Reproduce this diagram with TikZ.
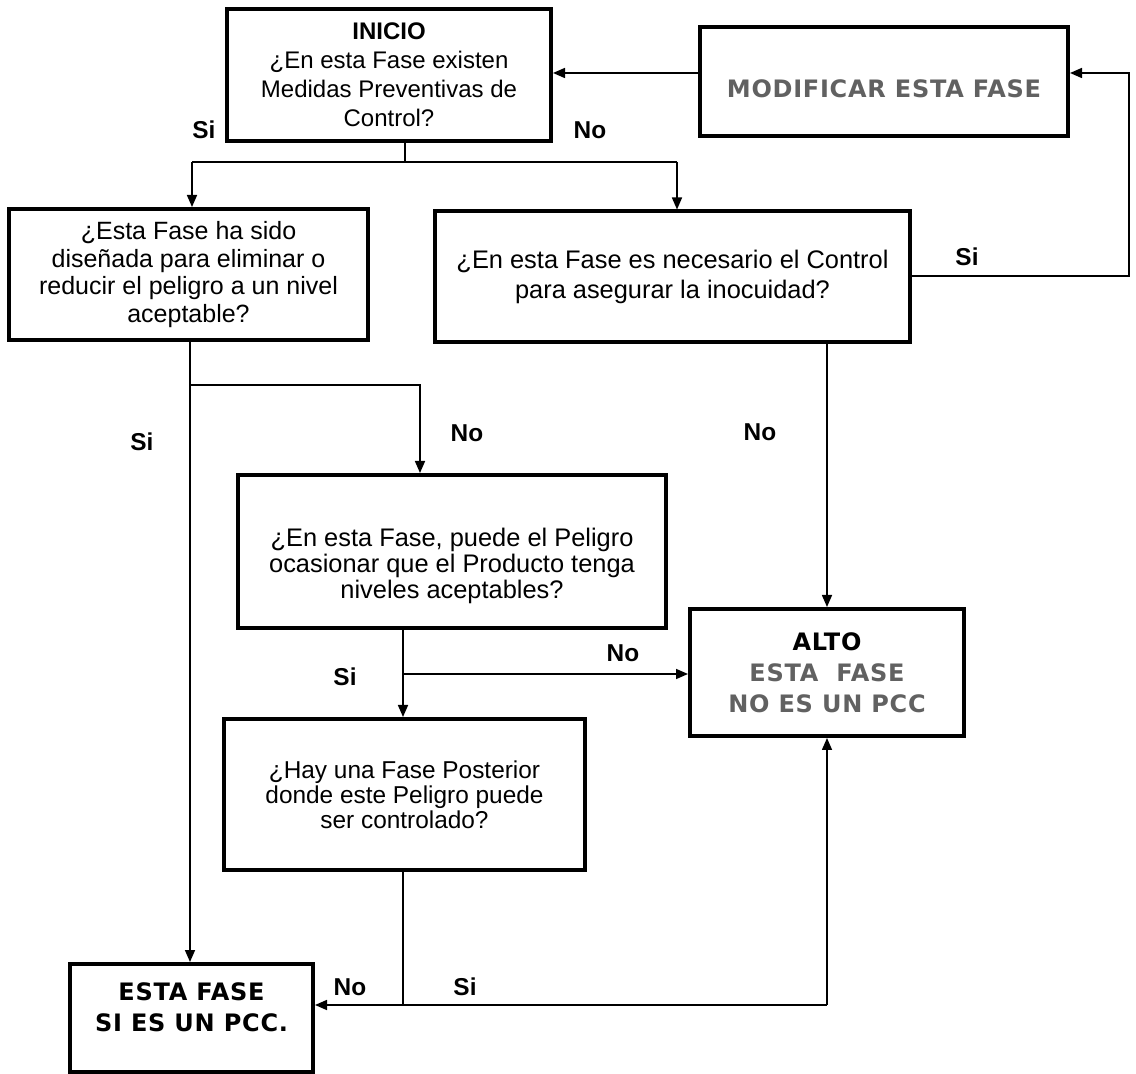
\documentclass[tikz,border=0pt]{standalone}
\usepackage{fontspec}
\setmainfont{Liberation Sans}
\newfontfamily\blkfont[LetterSpace=3.0]{DejaVu Sans}
\usetikzlibrary{arrows.meta}
\definecolor{stip}{gray}{0.38}
\begin{document}
\begin{tikzpicture}[x=0.5pt,y=-0.5pt,
  box/.style={draw,line width=2pt,inner sep=0pt,align=center,
    font=\fontsize{12.2}{14.5}\selectfont},
  txt/.style={inner sep=0pt,align=center},
  bigtxt/.style={font=\blkfont\bfseries\fontsize{12}{15.5}\selectfont},
  lbl/.style={font=\bfseries\fontsize{12.2}{14}\selectfont,inner sep=0pt},
  conn/.style={line width=0.8pt},
  arr/.style={conn,-{Triangle[length=6pt,width=5pt]}}]
\useasboundingbox (0,0) rectangle (1136,1074);

% boxes
\node[box,minimum width=162pt,minimum height=66pt,
  font=\fontsize{12}{14.5}\selectfont] (inicio) at (389,75)
  {\textbf{INICIO}\\¿En esta Fase existen\\Medidas Preventivas de\\Control?};
\node[box,bigtxt,text=stip,minimum width=184pt,minimum height=54.5pt,
  text height=16.5pt,text depth=0pt] (modif) at (884,81.5) {MODIFICAR ESTA FASE};
\node[box,minimum width=179.5pt,minimum height=65.5pt,
  font=\fontsize{12.5}{13.7}\selectfont] (lbox) at (188.5,274.5)
  {¿Esta Fase ha sido\\diseñada para eliminar o\\reducir el peligro a un nivel\\aceptable?};
\node[box,minimum width=237.5pt,minimum height=65.5pt,
  font=\fontsize{12.7}{15}\selectfont] (rbox) at (672.5,277)
  {¿En esta Fase es necesario el Control\\para asegurar la inocuidad?};
\node[box,minimum width=214pt,minimum height=76.5pt] (puede) at (452,551.5) {};
\node[txt,font=\fontsize{12.7}{13.2}\selectfont] (puedetxt) at (452,566)
  {¿En esta Fase, puede el Peligro\\ocasionar que el Producto tenga\\niveles aceptables?};
\node[box,minimum width=180.5pt,minimum height=75.5pt,
  font=\fontsize{12.2}{12.6}\selectfont] (hay) at (404.5,794.5)
  {¿Hay una Fase Posterior\\donde este Peligro puede\\ser controlado?};
\node[box,bigtxt,minimum width=137pt,minimum height=63.5pt] (alto) at (827,672.5)
  {ALTO\\\textcolor{stip}{ESTA~~FASE}\\\textcolor{stip}{NO ES UN PCC}};
\node[box,bigtxt,minimum width=121.5pt,minimum height=54pt] (esta) at (191.5,1018)
  {ESTA FASE\\SI ES UN PCC.\\[-5pt]~};

% labels
\node[lbl] (l1) at (204,130) {Si};
\node[lbl] (l2) at (590,130) {No};
\node[lbl] (l3) at (967,257) {Si};
\node[lbl] (l4) at (142,442) {Si};
\node[lbl] (l5) at (467,433) {No};
\node[lbl] (l6) at (760,432) {No};
\node[lbl] (l7) at (623,653) {No};
\node[lbl] (l8) at (345,677) {Si};
\node[lbl] (l9) at (350,987) {No};
\node[lbl] (l10) at (465,987) {Si};

% junction coordinates
\coordinate (jtop) at (405,162);
\coordinate (jl) at (192,162);
\coordinate (jr) at (677,162);
\coordinate (ym) at (0,73);
\coordinate (fb) at (1129,276);
\coordinate (xl) at (190,0);
\coordinate (br) at (190,385);
\coordinate (brr) at (420,385);
\coordinate (xp) at (403,0);
\coordinate (pb) at (403,674);
\coordinate (hb) at (403,1005);
\coordinate (ab) at (827,1005);

% connectors
\draw[conn] (inicio.south -| jtop) -- (jtop);
\draw[conn] (jl) -- (jr);
\draw[arr] (jl) -- (jl |- lbox.north);
\draw[arr] (jr) -- (jr |- rbox.north);
\draw[arr] (modif.west |- ym) -- (inicio.east |- ym);
\draw[arr] (rbox.east |- fb) -- (fb) |- (modif.east |- ym);
\draw[arr] (alto.north |- rbox.south) -- (alto.north);
\draw[arr] (lbox.south -| xl) -- (esta.north -| xl);
\draw[arr] (br) -- (brr) -- (brr |- puede.north);
\draw[arr] (puede.south -| xp) -- (hay.north -| xp);
\draw[arr] (pb) -- (alto.west |- pb);
\draw[conn] (hay.south -| hb) -- (hb);
\draw[arr] (ab) -- (esta.east |- ab);
\draw[arr] (ab) -- (alto.south -| ab);
\end{tikzpicture}
\end{document}
